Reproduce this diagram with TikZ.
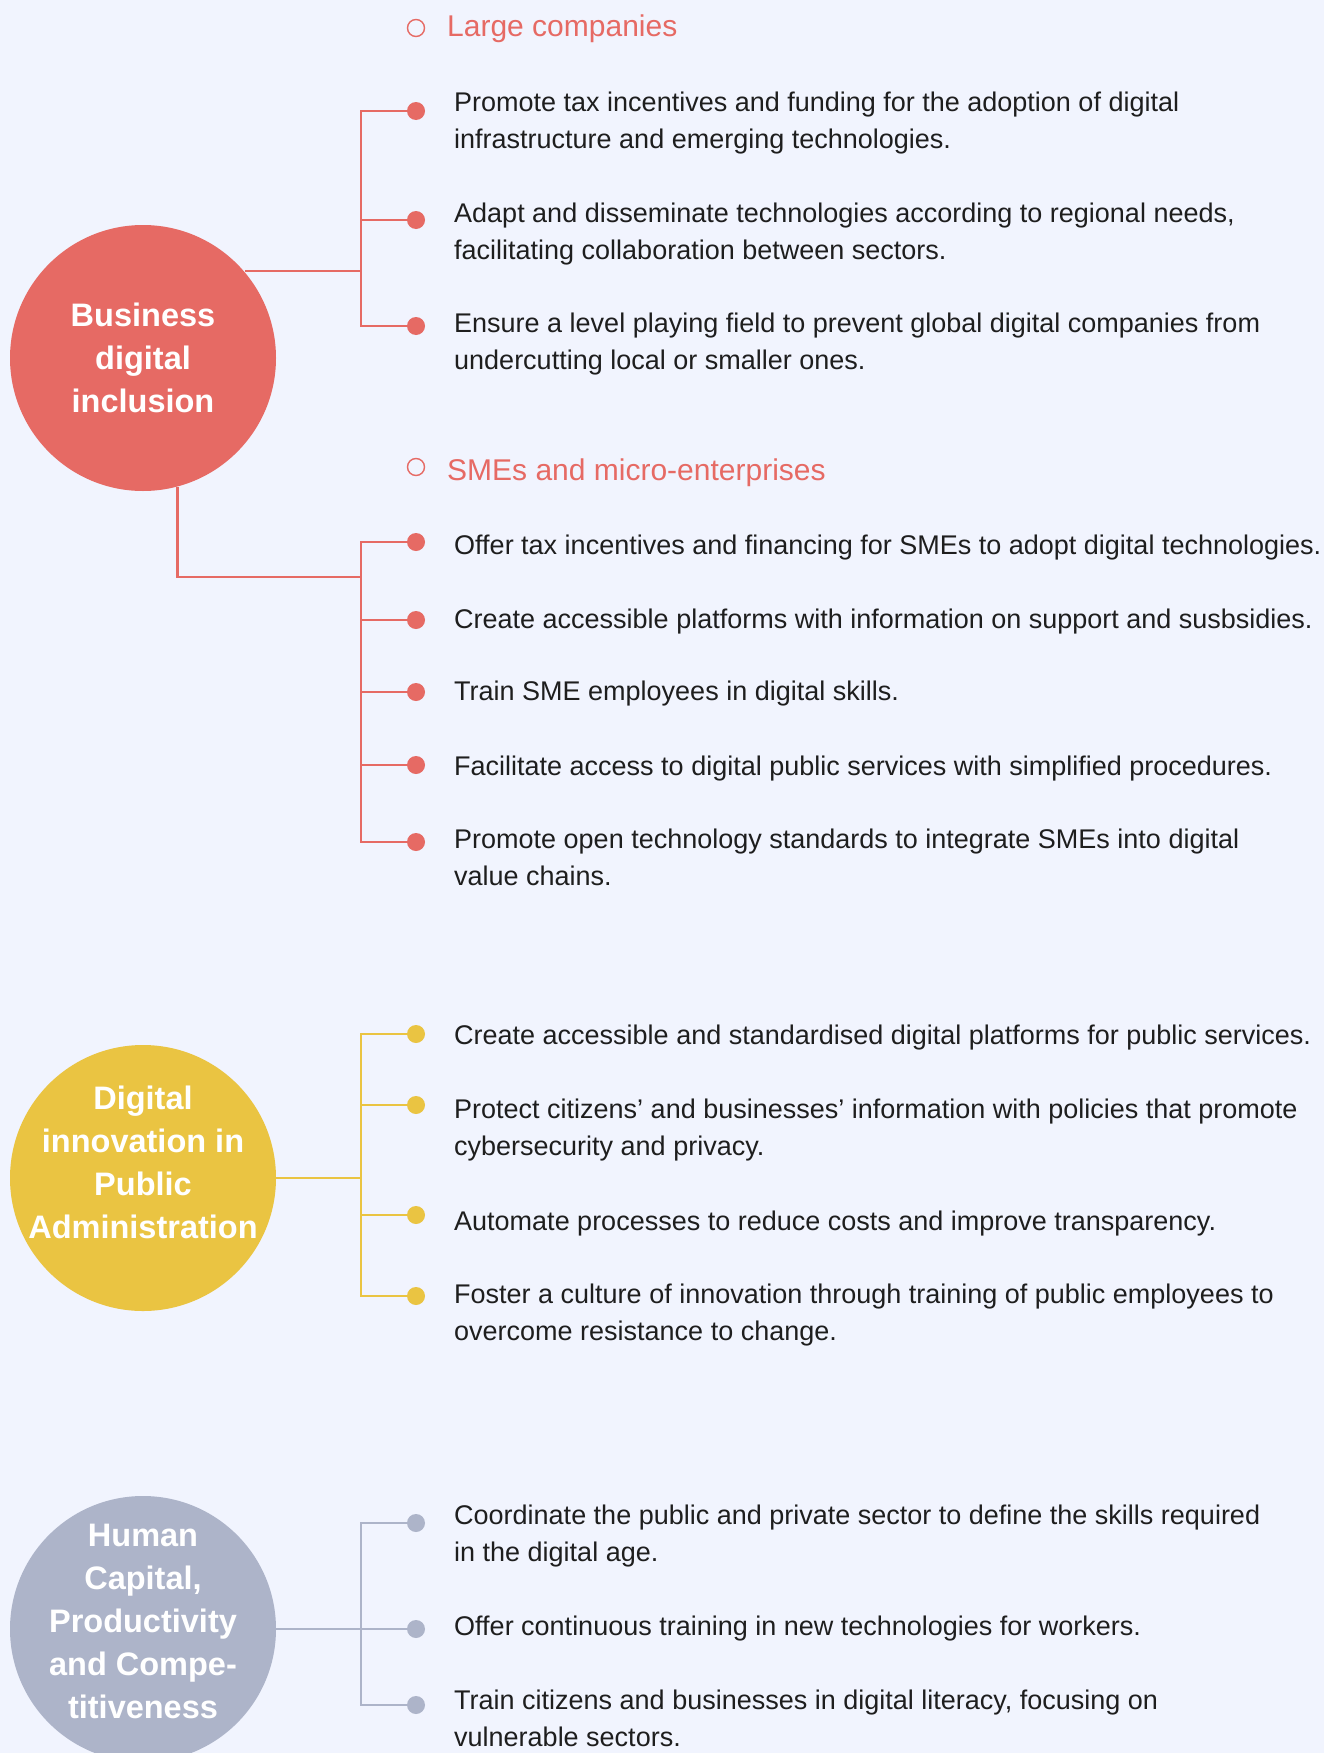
\documentclass[tikz,border=0pt]{standalone}
\usepackage{fontspec}
\setmainfont{Liberation Sans}
\usepackage{tikz}
\definecolor{paper}{RGB}{241,244,254}
\definecolor{ink}{RGB}{30,30,30}
\definecolor{bizred}{RGB}{230,106,100}
\definecolor{pubyellow}{RGB}{234,196,66}
\definecolor{humgray}{RGB}{173,180,201}

\begin{document}
\begin{tikzpicture}[
  x=1pt,y=-1pt,
  hub/.style={circle,minimum size=266pt,inner sep=0pt},
  hubtext/.style={font=\fontsize{32.5}{43}\selectfont\bfseries,text=white,align=center,anchor=base,inner sep=0pt},
  ring/.style={circle,draw,line width=1.4pt,minimum size=17pt,inner sep=0pt,fill=paper},
  dot/.style={circle,minimum size=18pt,inner sep=0pt},
  head/.style={font=\fontsize{30}{37}\selectfont,anchor=base west,inner sep=0pt},
  item/.style={font=\fontsize{27}{37}\selectfont,text=ink,align=left,anchor=base west,inner sep=0pt},
  link/.style={line width=2.4pt},
]
\path[use as bounding box,fill=paper] (0,0) rectangle (1324,1753);

% business digital inclusion (text nodes sit on the baseline of their last line)
\node[hub,fill=bizred] (biz) at (143,358) {};
\node[hubtext] (bizlbl) at (143,412) {Business\\digital\\inclusion};

\node[ring,draw=bizred] (lcring) at (416,28) {};
\node[head,text=bizred] (lchead) at (447,37) {Large companies};
\node[dot,fill=bizred] (a1) at (416,111) {};
\node[dot,fill=bizred] (a2) at (416,220) {};
\node[dot,fill=bizred] (a3) at (416,326) {};
\node[item] (a1txt) at (454,148) {Promote tax incentives and funding for the adoption of digital\\infrastructure and emerging technologies.};
\node[item] (a2txt) at (454,259) {Adapt and disseminate technologies according to regional needs,\\facilitating collaboration between sectors.};
\node[item] (a3txt) at (454,369) {Ensure a level playing field to prevent global digital companies from\\undercutting local or smaller ones.};

\node[ring,draw=bizred] (smering) at (416,467) {};
\node[head,text=bizred] (smehead) at (447,480) {SMEs and micro-enterprises};
\node[dot,fill=bizred] (b1) at (416,542) {};
\node[dot,fill=bizred] (b2) at (416,620) {};
\node[dot,fill=bizred] (b3) at (416,692) {};
\node[dot,fill=bizred] (b4) at (416,765) {};
\node[dot,fill=bizred] (b5) at (416,842) {};
\node[item] (b1txt) at (454,554) {Offer tax incentives and financing for SMEs to adopt digital technologies.};
\node[item] (b2txt) at (454,628) {Create accessible platforms with information on support and susbsidies.};
\node[item] (b3txt) at (454,700) {Train SME employees in digital skills.};
\node[item] (b4txt) at (454,775) {Facilitate access to digital public services with simplified procedures.};
\node[item] (b5txt) at (454,885) {Promote open technology standards to integrate SMEs into digital\\value chains.};

\coordinate (ja) at (361,271);
\coordinate (jb) at (361,577);
\draw[link,bizred] (ja -| biz.40.9) -- (ja);
\draw[link,bizred] (a1) -| (ja);
\draw[link,bizred] (a2) -| (ja);
\draw[link,bizred] (a3) -| (ja);
\draw[link,bizred] (biz.-75.6) |- (jb);
\draw[link,bizred] (b1) -| (jb);
\draw[link,bizred] (b2) -| (jb);
\draw[link,bizred] (b3) -| (jb);
\draw[link,bizred] (b4) -| (jb);
\draw[link,bizred] (b5) -| (jb);

% digital innovation in public administration
\node[hub,fill=pubyellow] (pub) at (143,1178) {};
\node[hubtext] (publbl) at (143,1238) {Digital\\innovation in\\Public\\Administration};
\node[dot,fill=pubyellow] (c1) at (416,1034) {};
\node[dot,fill=pubyellow] (c2) at (416,1105) {};
\node[dot,fill=pubyellow] (c3) at (416,1215) {};
\node[dot,fill=pubyellow] (c4) at (416,1296) {};
\node[item] (c1txt) at (454,1044) {Create accessible and standardised digital platforms for public services.};
\node[item] (c2txt) at (454,1155) {Protect citizens’ and businesses’ information with policies that promote\\cybersecurity and privacy.};
\node[item] (c3txt) at (454,1230) {Automate processes to reduce costs and improve transparency.};
\node[item] (c4txt) at (454,1340) {Foster a culture of innovation through training of public employees to\\overcome resistance to change.};

\coordinate (jc) at (361,1178);
\draw[link,pubyellow] (pub) -- (jc);
\draw[link,pubyellow] (c1) -| (jc);
\draw[link,pubyellow] (c2) -| (jc);
\draw[link,pubyellow] (c3) -| (jc);
\draw[link,pubyellow] (c4) -| (jc);

% human capital
\node[hub,fill=humgray] (hum) at (143,1629) {};
\node[hubtext] (humlbl) at (143,1718) {Human\\Capital,\\Productivity\\and Compe-\\titiveness};
\node[dot,fill=humgray] (d1) at (416,1523) {};
\node[dot,fill=humgray] (d2) at (416,1629) {};
\node[dot,fill=humgray] (d3) at (416,1705) {};
\node[item] (d1txt) at (454,1561) {Coordinate the public and private sector to define the skills required\\in the digital age.};
\node[item] (d2txt) at (454,1635) {Offer continuous training in new technologies for workers.};
\node[item] (d3txt) at (454,1746) {Train citizens and businesses in digital literacy, focusing on\\vulnerable sectors.};

\coordinate (jd) at (361,1629);
\draw[link,humgray] (hum) -- (jd);
\draw[link,humgray] (d1) -| (jd);
\draw[link,humgray] (d2) -- (jd);
\draw[link,humgray] (d3) -| (jd);
\end{tikzpicture}
\end{document}
